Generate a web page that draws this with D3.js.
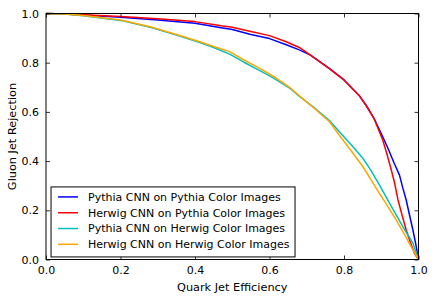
<!DOCTYPE html>
<html>
<head>
<meta charset="utf-8">
<script src="https://cdnjs.cloudflare.com/ajax/libs/d3/7.8.5/d3.min.js"></script>
<style>
	body { margin: 0; background: #fff; }
	svg text { font-family: "DejaVu Sans", sans-serif; fill: #000; }
</style>
</head>
<body>
<svg id="chart" width="436" height="301"></svg>
<script>
// ROC-ish curves
let pp_x = [0, 0.05, 0.1, 0.2, 0.3, 0.4, 0.47, 0.5, 0.55, 0.6, 0.645, 0.68, 0.71, 0.76, 0.8, 0.84, 0.86, 0.88, 0.904, 0.92, 0.935, 0.949, 0.958, 0.967, 0.976, 0.985, 0.993, 1.0];
let pp_y = [1, 0.998, 0.994, 0.985, 0.974, 0.96, 0.942, 0.935, 0.915, 0.898, 0.873, 0.852, 0.831, 0.777, 0.73, 0.668, 0.625, 0.575, 0.499, 0.445, 0.39, 0.343, 0.29, 0.242, 0.18, 0.12, 0.06, 0];

let hp_x = [0, 0.05, 0.1, 0.2, 0.3, 0.4, 0.47, 0.5, 0.55, 0.6, 0.645, 0.68, 0.71, 0.76, 0.8, 0.84, 0.86, 0.88, 0.904, 0.915, 0.927, 0.936, 0.945, 0.956, 0.967, 0.978, 0.989, 1.0];
let hp_y = [1, 0.998, 0.995, 0.988, 0.979, 0.967, 0.95, 0.944, 0.927, 0.91, 0.885, 0.862, 0.831, 0.777, 0.73, 0.668, 0.625, 0.575, 0.486, 0.43, 0.364, 0.31, 0.242, 0.18, 0.12, 0.07, 0.025, 0];

let ph_x = [0, 0.05, 0.1, 0.2, 0.28, 0.35, 0.413, 0.45, 0.493, 0.53, 0.574, 0.61, 0.654, 0.681, 0.72, 0.761, 0.79, 0.824, 0.851, 0.873, 0.895, 0.918, 0.94, 0.963, 0.985, 1.0];
let ph_y = [1, 0.998, 0.991, 0.972, 0.944, 0.912, 0.882, 0.862, 0.835, 0.803, 0.768, 0.738, 0.697, 0.662, 0.617, 0.565, 0.515, 0.458, 0.411, 0.36, 0.303, 0.24, 0.181, 0.12, 0.066, 0];

let hh_x = [0, 0.05, 0.1, 0.2, 0.28, 0.35, 0.413, 0.45, 0.493, 0.53, 0.574, 0.61, 0.654, 0.681, 0.72, 0.761, 0.79, 0.815, 0.851, 0.873, 0.895, 0.918, 0.94, 0.963, 0.985, 1.0];
let hh_y = [1, 0.998, 0.992, 0.974, 0.946, 0.915, 0.885, 0.866, 0.845, 0.812, 0.777, 0.745, 0.700, 0.664, 0.615, 0.560, 0.50, 0.45, 0.377, 0.323, 0.269, 0.215, 0.161, 0.10, 0.039, 0];

let series_names = ["Pythia CNN on Pythia Color Images", "Herwig CNN on Pythia Color Images", "Pythia CNN on Herwig Color Images", "Herwig CNN on Herwig Color Images"];
let series_colors = ["#0000ff", "#ff0000", "#00bfbf", "#ffa500"];
let series_x = [pp_x, hp_x, ph_x, hh_x];
let series_y = [pp_y, hp_y, ph_y, hh_y];

let tick_vals = [0, 0.2, 0.4, 0.6, 0.8, 1.0];

let margin = {left: 46, right: 17.5, top: 13.5, bottom: 41.5};
let width = 436 - margin.left - margin.right;
let height = 301 - margin.top - margin.bottom;

let svg = d3.select("#chart");
let g = svg.append("g")
	.attr("transform", `translate(${margin.left},${margin.top})`);

let x = d3.scaleLinear().domain([0, 1]).range([0, width]);
let y = d3.scaleLinear().domain([0, 1]).range([height, 0]);

// curves
let line = d3.line()
	.x(d => x(d[0]))
	.y(d => y(d[1]));

series_x.forEach((xs, i) => {
	let pts = xs.map((v, j) => [v, series_y[i][j]]);
	g.append("path")
		.datum(pts)
		.attr("d", line)
		.attr("fill", "none")
		.attr("stroke", series_colors[i])
		.attr("stroke-width", 1.5)
		.attr("stroke-linejoin", "round");
});

// axes with inward ticks, like classic matplotlib
function style_axis(sel) {
	sel.select(".domain").remove();
	sel.selectAll(".tick line").attr("stroke", "#000").attr("stroke-width", 0.8);
	sel.selectAll(".tick text").style("font-size", "11px");
}

g.append("g")
	.attr("transform", `translate(0,${height})`)
	.call(d3.axisBottom(x).tickValues(tick_vals).tickFormat(d3.format(".1f")).tickSizeInner(-4).tickPadding(7))
	.call(style_axis);

g.append("g")
	.call(d3.axisLeft(y).tickValues(tick_vals).tickFormat(d3.format(".1f")).tickSizeInner(-4).tickPadding(7))
	.call(style_axis);

g.append("g")
	.call(d3.axisTop(x).tickValues(tick_vals).tickFormat("").tickSizeInner(-4))
	.call(style_axis);

g.append("g")
	.attr("transform", `translate(${width},0)`)
	.call(d3.axisRight(y).tickValues(tick_vals).tickFormat("").tickSizeInner(-4))
	.call(style_axis);

// frame
g.append("rect")
	.attr("width", width)
	.attr("height", height)
	.attr("fill", "none")
	.attr("stroke", "#000")
	.attr("stroke-width", 1);

// axis labels
svg.append("text")
	.attr("x", margin.left + width / 2)
	.attr("y", 291)
	.attr("text-anchor", "middle")
	.style("font-size", "11.3px")
	.text("Quark Jet Efficiency");

svg.append("text")
	.attr("transform", `translate(16,${margin.top + height / 2}) rotate(-90)`)
	.attr("text-anchor", "middle")
	.style("font-size", "11.3px")
	.text("Gluon Jet Rejection");

// legend
let legend = g.append("g")
	.attr("transform", `translate(${x(0.0135)},${y(0.295)})`);

legend.append("rect")
	.attr("width", 244)
	.attr("height", 70)
	.attr("fill", "#fff")
	.attr("stroke", "#000")
	.attr("stroke-width", 1);

series_names.forEach((name, i) => {
	let row = legend.append("g")
		.attr("transform", `translate(0,${10 + i * 15.8})`);
	row.append("line")
		.attr("x1", 7)
		.attr("x2", 27)
		.attr("stroke", series_colors[i])
		.attr("stroke-width", 1.5);
	row.append("text")
		.attr("x", 37)
		.attr("dy", "0.35em")
		.style("font-size", "11px")
		.text(name);
});
</script>
</body>
</html>
